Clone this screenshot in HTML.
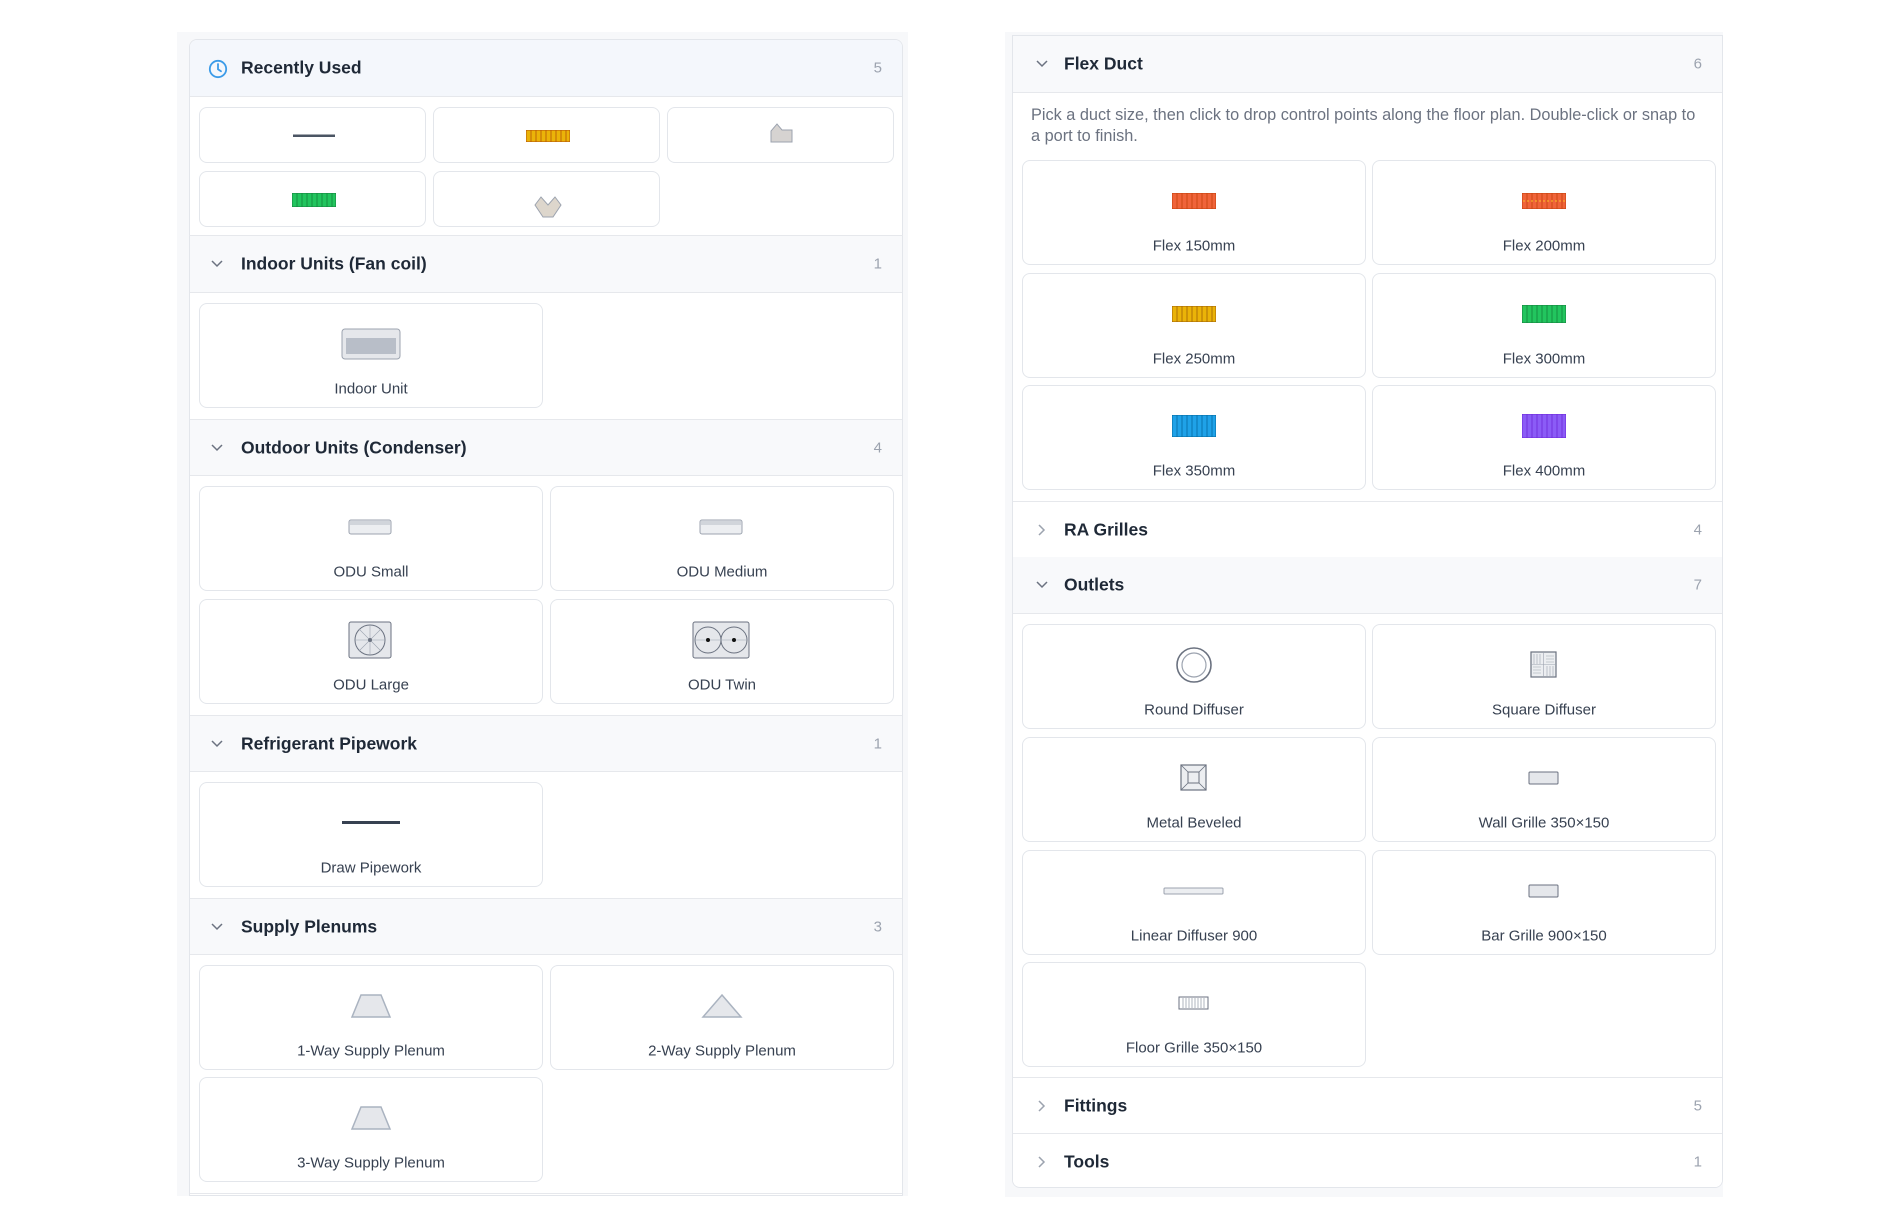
<!DOCTYPE html>
<html><head><meta charset="utf-8"><style>
*{box-sizing:border-box;margin:0;padding:0}
body{width:1900px;height:1229px;background:#fff;position:relative;font-family:"Liberation Sans",sans-serif;overflow:hidden}
.a{position:absolute}
.strip{position:absolute;background:#f7f8fa}
.card{position:absolute;background:#fff;border:1.5px solid #e3e6eb;border-radius:8px;overflow:hidden}
.hd{position:absolute;left:0;right:0;border-bottom:1.5px solid #e6e8ec;background:#f8f9fb}
.hd.w{background:#fff}
.hd .t{position:absolute;top:50%;transform:translateY(-50%);font-weight:bold;font-size:17.5px;color:#1f2937}
.hd .c{position:absolute;right:20px;top:50%;transform:translateY(-50%);font-size:15px;color:#9ca3af}
.hd .ch{position:absolute;top:50%;transform:translateY(-50%);color:#6b7280}
.tile{position:absolute;border:1.5px solid #e3e6eb;border-radius:8px;background:#fff}
.tile .ic{position:absolute;left:0;right:0;top:40px;transform:translateY(-50%);display:flex;justify-content:center}
.tile .lb{position:absolute;left:0;right:0;top:85px;transform:translateY(-50%);text-align:center;font-size:15px;color:#374151}
</style></head><body>

<!-- LEFT -->
<div class="strip" style="left:177px;top:32px;width:731px;height:1164px"></div>
<div class="card" style="left:189px;top:39px;width:714px;height:1157px;border-radius:8px 8px 0 0">
 <div class="hd" style="top:0;height:57px;background:#f4f7fc">
  <svg class="a" style="left:18px;top:19px" width="20" height="20" viewBox="0 0 20 20"><circle cx="10" cy="10" r="8.2" fill="none" stroke="#3b9be8" stroke-width="1.8"/><path d="M10 5v5.3l3 2" fill="none" stroke="#3b9be8" stroke-width="1.8" stroke-linecap="round"/></svg>
  <div class="t" style="left:51px">Recently Used</div><div class="c">5</div>
 </div>
 <div class="hd" style="top:196px;height:57px"><svg class="ch" style="left:20px" width="14" height="10" viewBox="0 0 14 10"><path d="M2 2l5 5 5-5" fill="none" stroke="#6b7280" stroke-width="1.5"/></svg><div class="t" style="left:51px">Indoor Units (Fan coil)</div><div class="c">1</div></div>
 <div class="hd" style="top:379px;height:57px;border-top:1.5px solid #e6e8ec"><svg class="ch" style="left:20px" width="14" height="10" viewBox="0 0 14 10"><path d="M2 2l5 5 5-5" fill="none" stroke="#6b7280" stroke-width="1.5"/></svg><div class="t" style="left:51px">Outdoor Units (Condenser)</div><div class="c">4</div></div>
 <div class="hd" style="top:675px;height:57px;border-top:1.5px solid #e6e8ec"><svg class="ch" style="left:20px" width="14" height="10" viewBox="0 0 14 10"><path d="M2 2l5 5 5-5" fill="none" stroke="#6b7280" stroke-width="1.5"/></svg><div class="t" style="left:51px">Refrigerant Pipework</div><div class="c">1</div></div>
 <div class="hd" style="top:858px;height:57px;border-top:1.5px solid #e6e8ec"><svg class="ch" style="left:20px" width="14" height="10" viewBox="0 0 14 10"><path d="M2 2l5 5 5-5" fill="none" stroke="#6b7280" stroke-width="1.5"/></svg><div class="t" style="left:51px">Supply Plenums</div><div class="c">3</div></div>
 <div class="a" style="left:0;right:0;top:1153px;border-top:1.5px solid #e6e8ec"></div>
</div>
<div class="a" style="left:189px;top:235px;width:714px;border-top:1.5px solid #e6e8ec"></div>

<!-- recently used tiles -->
<div class="tile" style="left:199px;top:107px;width:227px;height:56px"><svg class="a" style="left:93px;top:26px" width="42" height="4"><rect width="42" height="2.5" y="0.5" fill="#4b5563"/></svg></div>
<div class="tile" style="left:433px;top:107px;width:227px;height:56px"><svg class="a" style="left:92px;top:22px" width="44" height="12"><rect width="44" height="12" fill="#eab308" stroke="#b45309" stroke-width="1"/><path d="M5 0v12M10 0v12M15 0v12M20 0v12M25 0v12M30 0v12M35 0v12M40 0v12" stroke="#b45309" stroke-width="0.8"/></svg></div>
<div class="tile" style="left:667px;top:107px;width:227px;height:56px"><svg class="a" style="left:100px;top:15px" width="26" height="20"><path d="M3 19V8L9 1l5 6h10v12z" fill="#d6d3d1" stroke="#9ca3af"/></svg></div>
<div class="tile" style="left:199px;top:171px;width:227px;height:56px"><svg class="a" style="left:92px;top:21px" width="44" height="14"><rect width="44" height="14" fill="#22c55e" stroke="#15803d"/><path d="M5 0v14M10 0v14M15 0v14M20 0v14M25 0v14M30 0v14M35 0v14M40 0v14" stroke="#15803d" stroke-width="0.8"/></svg></div>
<div class="tile" style="left:433px;top:171px;width:227px;height:56px"><svg class="a" style="left:99px;top:23px" width="30" height="24"><path d="M2 10L8 2l7 8 7-8 6 8-8 12H10z" fill="#ddd6cc" stroke="#9ca3af"/></svg></div>

<!-- indoor -->
<div class="tile" style="left:199px;top:303px;width:344px;height:105px"><div class="ic"><svg width="60" height="32"><rect x="1" y="1" width="58" height="30" rx="3" fill="#e5e7eb" stroke="#9ca3af"/><rect x="5" y="10" width="50" height="16" fill="#b8bec8"/></svg></div><div class="lb">Indoor Unit</div></div>

<!-- outdoor -->
<div class="tile" style="left:199px;top:486px;width:344px;height:105px"><div class="ic"><svg width="46" height="16"><rect x="1" y="1" width="42" height="14" rx="2" fill="#eceef1" stroke="#9ca3af"/><rect x="2" y="2" width="40" height="4" fill="#d1d5db"/></svg></div><div class="lb">ODU Small</div></div>
<div class="tile" style="left:550px;top:486px;width:344px;height:105px"><div class="ic"><svg width="46" height="16"><rect x="1" y="1" width="42" height="14" rx="2" fill="#eceef1" stroke="#9ca3af"/><rect x="2" y="2" width="40" height="4" fill="#d1d5db"/></svg></div><div class="lb">ODU Medium</div></div>
<div class="tile" style="left:199px;top:599px;width:344px;height:105px"><div class="ic"><svg width="46" height="38"><rect x="1" y="1" width="42" height="36" rx="2" fill="#e5e7eb" stroke="#6b7280"/><circle cx="22" cy="19" r="15" fill="none" stroke="#6b7280"/><path d="M7 19h30M22 4v30M11 8l22 22M33 8L11 30" stroke="#9ca3af" stroke-width="0.6"/><circle cx="22" cy="19" r="2" fill="#6b7280"/></svg></div><div class="lb">ODU Large</div></div>
<div class="tile" style="left:550px;top:599px;width:344px;height:105px"><div class="ic"><svg width="60" height="38"><rect x="1" y="1" width="56" height="36" rx="2" fill="#e5e7eb" stroke="#6b7280"/><circle cx="16" cy="19" r="13" fill="none" stroke="#6b7280"/><circle cx="42" cy="19" r="13" fill="none" stroke="#6b7280"/><path d="M3 19h52" stroke="#9ca3af" stroke-width="0.6"/><circle cx="16" cy="19" r="2" fill="#111"/><circle cx="42" cy="19" r="2" fill="#111"/></svg></div><div class="lb">ODU Twin</div></div>

<!-- refrig -->
<div class="tile" style="left:199px;top:782px;width:344px;height:105px"><div class="ic"><svg width="58" height="4"><rect width="58" height="3" fill="#374151"/></svg></div><div class="lb">Draw Pipework</div></div>

<!-- plenums -->
<div class="tile" style="left:199px;top:965px;width:344px;height:105px"><div class="ic"><svg width="42" height="26"><path d="M11 2h20l9 22H2z" fill="#e5e7eb" stroke="#aab3c0" stroke-width="1.5"/></svg></div><div class="lb">1-Way Supply Plenum</div></div>
<div class="tile" style="left:550px;top:965px;width:344px;height:105px"><div class="ic"><svg width="42" height="26"><path d="M21 2l19 22H2z" fill="#e5e7eb" stroke="#aab3c0" stroke-width="1.5"/></svg></div><div class="lb">2-Way Supply Plenum</div></div>
<div class="tile" style="left:199px;top:1077px;width:344px;height:105px"><div class="ic"><svg width="42" height="26"><path d="M11 2h20l9 22H2z" fill="#e5e7eb" stroke="#aab3c0" stroke-width="1.5"/></svg></div><div class="lb">3-Way Supply Plenum</div></div>

<!-- RIGHT -->
<div class="strip" style="left:1005px;top:32px;width:718px;height:1165px"></div>
<div class="card" style="left:1012px;top:35px;width:711px;height:1153px;border-radius:0 0 8px 8px">
 <div class="hd" style="top:0;height:57px"><svg class="ch" style="left:22px" width="14" height="10" viewBox="0 0 14 10"><path d="M2 2l5 5 5-5" fill="none" stroke="#6b7280" stroke-width="1.5"/></svg><div class="t" style="left:51px">Flex Duct</div><div class="c">6</div></div>
 <div class="a" style="left:18px;top:69px;width:675px;font-size:16.3px;line-height:21px;color:#6b7280">Pick a duct size, then click to drop control points along the floor plan. Double-click or snap to a port to finish.</div>
 <div class="hd w" style="top:465px;height:57px;border-top:1.5px solid #e6e8ec"><svg class="ch" style="left:24px" width="10" height="14" viewBox="0 0 10 14"><path d="M2 2l5 5-5 5" fill="none" stroke="#9ca3af" stroke-width="1.5"/></svg><div class="t" style="left:51px">RA Grilles</div><div class="c">4</div></div>
 <div class="hd" style="top:521px;height:57px"><svg class="ch" style="left:22px" width="14" height="10" viewBox="0 0 14 10"><path d="M2 2l5 5 5-5" fill="none" stroke="#6b7280" stroke-width="1.5"/></svg><div class="t" style="left:51px">Outlets</div><div class="c">7</div></div>
 <div class="hd w" style="top:1041px;height:57px;border-top:1.5px solid #e6e8ec"><svg class="ch" style="left:24px" width="10" height="14" viewBox="0 0 10 14"><path d="M2 2l5 5-5 5" fill="none" stroke="#9ca3af" stroke-width="1.5"/></svg><div class="t" style="left:51px">Fittings</div><div class="c">5</div></div>
 <div class="hd w" style="top:1097px;height:57px;border-top:1.5px solid #e6e8ec;border-bottom:none"><svg class="ch" style="left:24px" width="10" height="14" viewBox="0 0 10 14"><path d="M2 2l5 5-5 5" fill="none" stroke="#9ca3af" stroke-width="1.5"/></svg><div class="t" style="left:51px">Tools</div><div class="c">1</div></div>
</div>

<!-- flex tiles -->
<div class="tile" style="left:1022px;top:160px;width:344px;height:105px"><div class="ic"><svg width="44" height="16"><rect width="44" height="16" fill="#f0643a" stroke="#c2410c"/><path d="M5 0v16M10 0v16M15 0v16M20 0v16M25 0v16M30 0v16M35 0v16M40 0v16" stroke="#c2410c" stroke-width="0.8"/></svg></div><div class="lb">Flex 150mm</div></div>
<div class="tile" style="left:1372px;top:160px;width:344px;height:105px"><div class="ic"><svg width="44" height="16"><rect width="44" height="16" fill="#f0643a" stroke="#c2410c"/><path d="M5 0v16M10 0v16M15 0v16M20 0v16M25 0v16M30 0v16M35 0v16M40 0v16" stroke="#c2410c" stroke-width="0.8"/><path d="M1 8h42" stroke="#fbbf24" stroke-dasharray="2 2"/></svg></div><div class="lb">Flex 200mm</div></div>
<div class="tile" style="left:1022px;top:273px;width:344px;height:105px"><div class="ic"><svg width="44" height="16"><rect width="44" height="16" fill="#eab308" stroke="#a16207"/><path d="M5 0v16M10 0v16M15 0v16M20 0v16M25 0v16M30 0v16M35 0v16M40 0v16" stroke="#a16207" stroke-width="0.8"/></svg></div><div class="lb">Flex 250mm</div></div>
<div class="tile" style="left:1372px;top:273px;width:344px;height:105px"><div class="ic"><svg width="44" height="18"><rect width="44" height="18" fill="#22c55e" stroke="#15803d"/><path d="M5 0v18M10 0v18M15 0v18M20 0v18M25 0v18M30 0v18M35 0v18M40 0v18" stroke="#15803d" stroke-width="0.8"/></svg></div><div class="lb">Flex 300mm</div></div>
<div class="tile" style="left:1022px;top:385px;width:344px;height:105px"><div class="ic"><svg width="44" height="22"><rect width="44" height="22" fill="#1fa2e8" stroke="#0369a1"/><path d="M5 0v22M10 0v22M15 0v22M20 0v22M25 0v22M30 0v22M35 0v22M40 0v22" stroke="#0369a1" stroke-width="0.8"/></svg></div><div class="lb">Flex 350mm</div></div>
<div class="tile" style="left:1372px;top:385px;width:344px;height:105px"><div class="ic"><svg width="44" height="24"><rect width="44" height="24" fill="#8b5cf6" stroke="#6d28d9"/><path d="M5 0v24M10 0v24M15 0v24M20 0v24M25 0v24M30 0v24M35 0v24M40 0v24" stroke="#6d28d9" stroke-width="0.8"/></svg></div><div class="lb">Flex 400mm</div></div>

<!-- outlets -->
<div class="tile" style="left:1022px;top:624px;width:344px;height:105px"><div class="ic"><svg width="38" height="38"><circle cx="19" cy="19" r="17" fill="#fff" stroke="#6b7280" stroke-width="1.6"/><circle cx="19" cy="19" r="12" fill="none" stroke="#9ca3af" stroke-width="1.2"/></svg></div><div class="lb">Round Diffuser</div></div>
<div class="tile" style="left:1372px;top:624px;width:344px;height:105px"><div class="ic"><svg width="28" height="28"><rect x="1" y="1" width="25" height="25" fill="#eceef1" stroke="#6b7280" stroke-width="1.2"/><path d="M13.5 1v25M1 13.5h25M4 3v10M7 3v10M10 3v10M16 5h8M16 8h8M16 11h8M3 16h8M3 19h8M3 22h8M17 15v10M20 15v10M23 15v10" stroke="#9ca3af" stroke-width="0.6"/></svg></div><div class="lb">Square Diffuser</div></div>
<div class="tile" style="left:1022px;top:737px;width:344px;height:105px"><div class="ic"><svg width="28" height="28"><rect x="1" y="1" width="25" height="25" fill="#eceef1" stroke="#6b7280" stroke-width="1.2"/><rect x="8" y="8" width="11" height="11" fill="none" stroke="#6b7280"/><path d="M1 1l7 7M26 1l-7 7M1 26l7-7M26 26l-7-7" stroke="#6b7280" stroke-width="0.8"/></svg></div><div class="lb">Metal Beveled</div></div>
<div class="tile" style="left:1372px;top:737px;width:344px;height:105px"><div class="ic"><svg width="32" height="14"><rect x="1" y="1" width="29" height="12" rx="1" fill="#e5e7eb" stroke="#6b7280"/></svg></div><div class="lb">Wall Grille 350×150</div></div>
<div class="tile" style="left:1022px;top:850px;width:344px;height:105px"><div class="ic"><svg width="62" height="8"><rect x="1" y="1" width="59" height="6" rx="1" fill="#eceef1" stroke="#9ca3af"/></svg></div><div class="lb">Linear Diffuser 900</div></div>
<div class="tile" style="left:1372px;top:850px;width:344px;height:105px"><div class="ic"><svg width="32" height="14"><rect x="1" y="1" width="29" height="12" rx="1" fill="#e5e7eb" stroke="#6b7280"/></svg></div><div class="lb">Bar Grille 900×150</div></div>
<div class="tile" style="left:1022px;top:962px;width:344px;height:105px"><div class="ic"><svg width="32" height="14"><rect x="1" y="1" width="29" height="12" fill="#fff" stroke="#6b7280"/><path d="M5 2v10M8 2v10M11 2v10M14 2v10M17 2v10M20 2v10M23 2v10M26 2v10" stroke="#9ca3af" stroke-width="0.8"/></svg></div><div class="lb">Floor Grille 350×150</div></div>

</body></html>
